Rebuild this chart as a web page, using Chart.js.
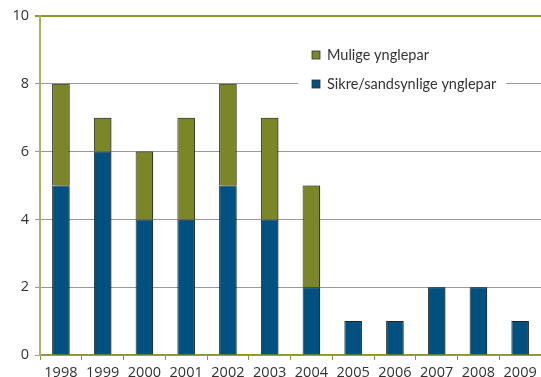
<!DOCTYPE html>
<html>
<head>
<meta charset="utf-8">
<script src="https://cdn.jsdelivr.net/npm/chart.js@4/dist/chart.umd.min.js"></script>
<style>
  html, body { margin: 0; padding: 0; background: #fff; }
  #wrap { width: 541px; height: 377px; position: relative; }
</style>
</head>
<body>
<div id="wrap"><canvas id="chart"></canvas></div>
<script>
// år og antall ynglepar
const years = ['1998', '1999', '2000', '2001', '2002', '2003', '2004', '2005', '2006', '2007', '2008', '2009'];
const sikre = [5, 6, 4, 4, 5, 4, 2, 1, 1, 2, 2, 1];
const mulige = [3, 1, 2, 3, 3, 3, 3, 0, 0, 0, 0, 0];
const yTicks = [0, 2, 4, 6, 8, 10];

const BLUE = '#00517f';
const GREEN = '#7b8629';
const OLIVE_LINE = '#a9b46a';
const FONT = '"Open Sans", "DejaVu Sans", sans-serif';

// skygge til høyre for søylene
const barShadow = {
    id: 'barShadow',
    beforeDatasetsDraw(chart) {
        const ctx = chart.ctx;
        ctx.save();
        ctx.shadowColor = 'rgba(0,0,0,0.35)';
        ctx.shadowOffsetX = 2;
        ctx.shadowOffsetY = 0;
        ctx.shadowBlur = 1;
    },
    afterDatasetsDraw(chart) {
        chart.ctx.restore();
    }
};

// tegnforklaring inne i plottet, med hvit bakgrunn over rutenettet
const innerLegend = {
    id: 'innerLegend',
    afterDatasetsDraw(chart) {
        const ctx = chart.ctx;
        const items = [
            { text: 'Mulige ynglepar', color: GREEN, y: 55 },
            { text: 'Sikre/sandsynlige ynglepar', color: BLUE, y: 84 }
        ];
        ctx.save();
        ctx.fillStyle = '#fff';
        ctx.fillRect(298, 40, 208, 58);
        ctx.font = '14.5px Lato, ' + FONT;
        ctx.textBaseline = 'middle';
        items.forEach(it => {
            ctx.fillStyle = it.color;
            ctx.fillRect(312, it.y - 4, 8, 8);
            ctx.strokeStyle = '#333';
            ctx.lineWidth = 0.8;
            ctx.strokeRect(312, it.y - 4, 8, 8);
            ctx.fillStyle = '#333';
            ctx.fillText(it.text, 327, it.y);
        });
        ctx.restore();
    }
};

new Chart(document.getElementById('chart'), {
    type: 'bar',
    data: {
        labels: years,
        datasets: [{
            label: 'Sikre/sandsynlige ynglepar',
            data: sikre,
            backgroundColor: BLUE,
            borderColor: '#1c2a30',
            borderWidth: 1,
            barPercentage: 0.42,
            categoryPercentage: 1
        }, {
            label: 'Mulige ynglepar',
            data: mulige,
            backgroundColor: GREEN,
            borderColor: '#2a2a1a',
            borderWidth: 1,
            barPercentage: 0.42,
            categoryPercentage: 1
        }]
    },
    options: {
        responsive: true,
        maintainAspectRatio: false,
        animation: false,
        layout: { padding: { top: 16, right: 0, left: 0, bottom: 0 } },
        plugins: {
            legend: { display: false },
            tooltip: { enabled: false }
        },
        scales: {
            x: {
                stacked: true,
                offset: true,
                border: { color: '#8a9a2a', width: 1.5 },
                grid: {
                    offset: true,
                    drawOnChartArea: false,
                    color: '#8a9a2a',
                    tickLength: 5
                },
                ticks: {
                    color: '#333',
                    font: { family: FONT, size: 14.5 },
                    padding: 4,
                    maxRotation: 0
                },
                afterFit(scale) { scale.height = 22; }
            },
            y: {
                stacked: true,
                min: 0,
                max: 10,
                afterBuildTicks(scale) {
                    scale.ticks = yTicks.map(v => ({ value: v }));
                },
                border: { color: OLIVE_LINE, width: 2 },
                grid: {
                    color: ctx => ctx.tick && ctx.tick.value === 10 ? '#8a9a2a' : '#9a9a9a',
                    lineWidth: ctx => ctx.tick && ctx.tick.value === 10 ? 2 : 1,
                    tickLength: 5
                },
                ticks: {
                    color: '#333',
                    font: { family: FONT, size: 14.5 },
                    padding: 6
                },
                afterFit(scale) { scale.width = 40; }
            }
        }
    },
    plugins: [barShadow, innerLegend]
});
</script>
</body>
</html>
